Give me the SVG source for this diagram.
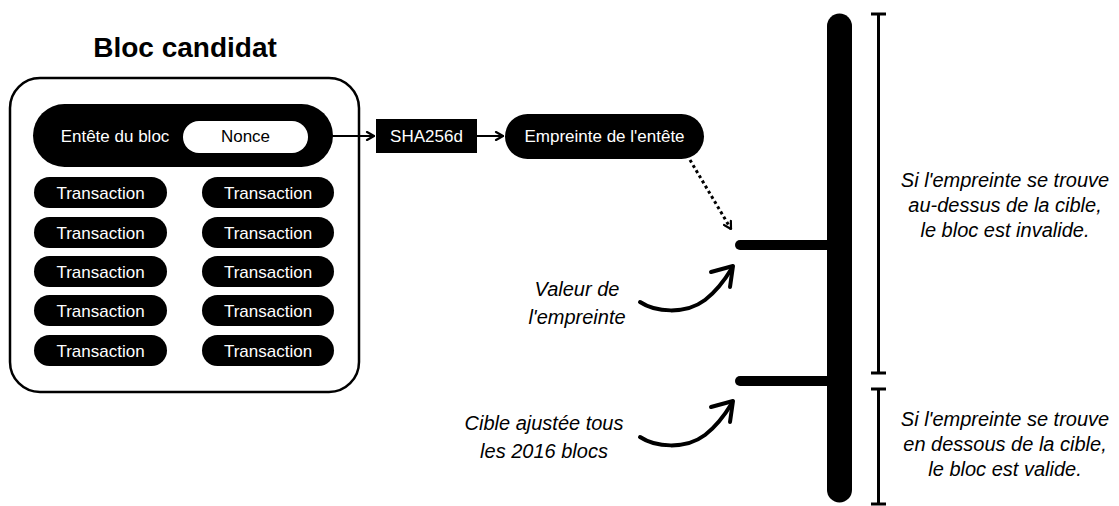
<svg xmlns="http://www.w3.org/2000/svg" width="1119" height="506" viewBox="0 0 1119 506">
<defs>
<style>
text{font-family:"Liberation Sans",Arial,sans-serif;}
.pill{fill:#000;}
.wt{fill:#fff;font-size:17px;text-anchor:middle;}
.bt{fill:#000;font-size:17px;text-anchor:middle;}
.it{fill:#000;font-size:20px;font-style:italic;text-anchor:middle;}
.conn{stroke:#000;fill:none;stroke-linecap:round;stroke-linejoin:round;}
</style>
<marker id="chev" viewBox="0 0 10 10" refX="9" refY="5" markerWidth="10" markerHeight="10" markerUnits="userSpaceOnUse" orient="auto">
<path d="M2,1 L9,5 L2,9" fill="none" stroke="#000" stroke-width="2.2" stroke-linecap="round" stroke-linejoin="round"/>
</marker>
</defs>
<rect width="1119" height="506" fill="#fff"/>
<text x="185" y="57" style="font-size:28px;font-weight:bold;text-anchor:middle;fill:#000">Bloc candidat</text>
<g id="bloc">
<rect x="10" y="78" width="349" height="314" rx="30" fill="#fff" stroke="#000" stroke-width="2.5"/>
</g>
<g id="entete">
<rect class="pill" x="33" y="104" width="300" height="63" rx="31.5"/>
<text class="wt" x="115" y="142">Entête du bloc</text>
</g>
<g id="nonce">
<rect x="183" y="121" width="125" height="32" rx="16" fill="#fff"/>
<text class="bt" x="245.5" y="142">Nonce</text>
</g>
<g id="transactions">
<rect class="pill" x="34" y="177" width="133" height="31" rx="15.5"/><text class="wt" x="100.5" y="198.5">Transaction</text>
<rect class="pill" x="202" y="177" width="132" height="31" rx="15.5"/><text class="wt" x="268" y="198.5">Transaction</text>
<rect class="pill" x="34" y="217" width="133" height="31" rx="15.5"/><text class="wt" x="100.5" y="238.5">Transaction</text>
<rect class="pill" x="202" y="217" width="132" height="31" rx="15.5"/><text class="wt" x="268" y="238.5">Transaction</text>
<rect class="pill" x="34" y="256" width="133" height="31" rx="15.5"/><text class="wt" x="100.5" y="277.5">Transaction</text>
<rect class="pill" x="202" y="256" width="132" height="31" rx="15.5"/><text class="wt" x="268" y="277.5">Transaction</text>
<rect class="pill" x="34" y="295" width="133" height="31" rx="15.5"/><text class="wt" x="100.5" y="316.5">Transaction</text>
<rect class="pill" x="202" y="295" width="132" height="31" rx="15.5"/><text class="wt" x="268" y="316.5">Transaction</text>
<rect class="pill" x="34" y="335" width="133" height="31" rx="15.5"/><text class="wt" x="100.5" y="356.5">Transaction</text>
<rect class="pill" x="202" y="335" width="132" height="31" rx="15.5"/><text class="wt" x="268" y="356.5">Transaction</text>
</g>
<g id="sha">
<rect x="376" y="119" width="101" height="34" fill="#000"/>
<text class="wt" x="426.5" y="142">SHA256d</text>
</g>
<g id="empreinte">
<rect class="pill" x="505" y="114" width="199" height="45" rx="22.5"/>
<text class="wt" x="604.5" y="142">Empreinte de l'entête</text>
</g>
<g id="echelle">
<line x1="839.5" y1="26" x2="839.5" y2="490" stroke="#000" stroke-width="25" stroke-linecap="round"/>
<line x1="740" y1="245" x2="835" y2="245" stroke="#000" stroke-width="10" stroke-linecap="round"/>
<line x1="740" y1="381" x2="835" y2="381" stroke="#000" stroke-width="10" stroke-linecap="round"/>
</g>
<g id="bornes" stroke="#000" stroke-width="3" fill="none">
<line x1="878.5" y1="14" x2="878.5" y2="373"/>
<line x1="871" y1="14" x2="886" y2="14"/>
<line x1="871" y1="373" x2="886" y2="373"/>
<line x1="878.5" y1="389" x2="878.5" y2="504"/>
<line x1="871" y1="389" x2="886" y2="389"/>
<line x1="871" y1="504" x2="886" y2="504"/>
</g>
<g id="connecteurs">
<line class="conn" x1="333" y1="136" x2="374" y2="136" stroke-width="2" marker-end="url(#chev)"/>
<line class="conn" x1="477" y1="136" x2="503" y2="136" stroke-width="2" marker-end="url(#chev)"/>
<line x1="690" y1="160" x2="731" y2="229" stroke="#000" stroke-width="3" stroke-dasharray="3 3" fill="none" marker-end="url(#chev)"/>
<path class="conn" d="M640,302 C655,312 685,315 705,300 C718,290 726,278 732,268" stroke-width="4"/>
<path class="conn" d="M711,272 L733,266 L730,287" stroke-width="4"/>
<path class="conn" d="M640,437 C655,447 685,450 705,435 C718,425 726,413 732,403" stroke-width="4"/>
<path class="conn" d="M711,407 L733,401 L730,422" stroke-width="4"/>
</g>
<g id="labels">
<text class="it" x="577" y="296">Valeur de</text>
<text class="it" x="577" y="324">l'empreinte</text>
<text class="it" x="544" y="430">Cible ajustée tous</text>
<text class="it" x="544" y="458">les 2016 blocs</text>
<text class="it" x="1005" y="187">Si l'empreinte se trouve</text>
<text class="it" x="1005" y="212">au-dessus de la cible,</text>
<text class="it" x="1005" y="237">le bloc est invalide.</text>
<text class="it" x="1005" y="426">Si l'empreinte se trouve</text>
<text class="it" x="1005" y="451">en dessous de la cible,</text>
<text class="it" x="1005" y="476">le bloc est valide.</text>
</g>
</svg>
